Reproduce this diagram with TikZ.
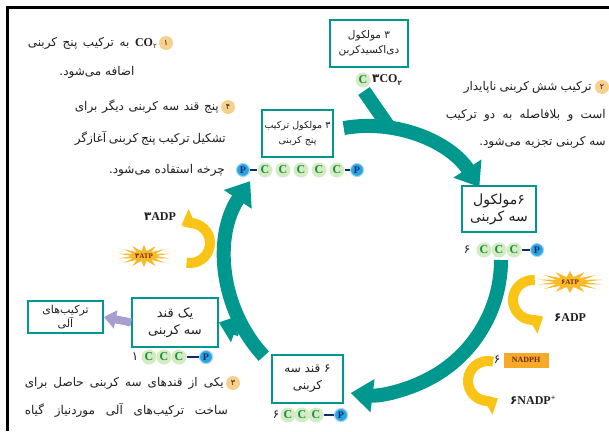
\documentclass[tikz,border=0pt]{standalone}
\usepackage{fontspec}
\setmainfont{Liberation Serif}
\newfontfamily\fa[Script=Arabic]{DejaVu Sans}
\TeXXeTstate=1
\usetikzlibrary{arrows.meta,shapes.geometric}
\definecolor{teal1}{RGB}{0,152,142}
\definecolor{gold}{RGB}{250,196,22}
\definecolor{starc}{RGB}{248,186,40}
\definecolor{nadph}{RGB}{246,170,40}
\definecolor{lav}{RGB}{168,158,208}
\definecolor{numc}{RGB}{248,208,140}
\definecolor{cfill}{RGB}{212,236,196}
\definecolor{ctext}{RGB}{30,140,60}
\definecolor{pfill}{RGB}{40,165,225}
\definecolor{ptext}{RGB}{20,40,110}
\definecolor{dtext}{RGB}{35,31,32}
\definecolor{atpt}{RGB}{110,40,20}
\tikzset{
  pbox/.style={draw=teal1, line width=1.8pt, fill=white, inner sep=1pt, align=center,
    font=\fa\fontsize{10}{14}\selectfont, text=dtext},
  ptxt/.style={font=\fa\fontsize{12}{13}\selectfont, inner sep=0, text=dtext},
  numcirc/.style={circle, fill=numc, inner sep=0, minimum size=14pt, text=dtext,
    font=\fa\fontsize{8}{8}\selectfont},
  catom/.style={circle, fill=cfill, inner sep=0, minimum size=15pt, text=ctext,
    font=\bfseries\fontsize{12}{12}\selectfont},
  patom/.style={circle, fill=pfill, draw=pfill!45, line width=1pt, inner sep=0, minimum size=13pt,
    text=ptext, font=\bfseries\fontsize{10}{10}\selectfont},
  bondline/.style={draw=ptext, line width=1.2pt},
  cyc/.style={draw=teal1, line width=14pt},
  cycarrow/.style={cyc, -{Triangle[width=32pt,length=22pt]}},
  yarrow/.style={draw=gold, line width=10pt, -{Triangle[width=22pt,length=13pt]}},
  lbl/.style={inner sep=0, font=\bfseries\fontsize{12}{12}\selectfont, text=dtext},
  starshape/.style={star, star points=14, star point ratio=2.2, fill=starc, inner sep=0, minimum size=22pt},
}
\begin{document}
\begin{tikzpicture}[x=1pt,y=-1pt]
\useasboundingbox (0,0) rectangle (609,431);
\clip (0,0) rectangle (609,431);
\fill[white] (0,0) rectangle (609,431);
\draw[line width=3pt] (7,431) -- (7,7) -- (609,7);

% ---------- cycle arrows ----------
\coordinate (cc) at (367,260);
\draw[cycarrow] (cc) ++(-100:134) arc[start angle=-100, end angle=-33, radius=134];
\draw[cycarrow] (cc) ++(0:134) arc[start angle=0, end angle=97, radius=134];
\draw[cycarrow] (cc) ++(137:141) arc[start angle=137, end angle=214, radius=141];
\coordinate (co2a) at (364,91);
\coordinate (co2b) at (389,127);
\draw[cyc] (co2a) -- (co2b);
\coordinate (brs) at (240,330);

% ---------- boxes ----------
\node[pbox, minimum width=78pt, minimum height=47pt, font=\fa\fontsize{10.5}{15}\selectfont] (bco2) at (369,43.5) {\beginR ۳ مولکول\endR\\\beginR دی‌اکسیدکربن\endR};
\node[pbox, minimum width=71pt, minimum height=47pt, font=\fa\fontsize{9.5}{15}\selectfont] (bru) at (297.5,133.5) {\beginR ۳ مولکول ترکیب\endR\\\beginR پنج کربنی\endR};
\node[pbox, minimum width=74pt, minimum height=46pt, font=\fa\fontsize{14}{17}\selectfont] (b6m) at (499,209) {\beginR ۶مولکول\endR\\\beginR سه کربنی\endR};
\node[pbox, minimum width=71pt, minimum height=48pt, font=\fa\fontsize{12}{17}\selectfont] (b6s) at (307.5,379) {\beginR ۶ قند سه\endR\\\beginR کربنی\endR};
\node[pbox, minimum width=86pt, minimum height=49pt, font=\fa\fontsize{13}{17}\selectfont] (b1s) at (175,322.5) {\beginR یک قند\endR\\\beginR سه کربنی\endR};
\node[pbox, minimum width=75pt, minimum height=32pt, font=\fa\fontsize{11}{13}\selectfont] (borg) at (65.5,317) {\beginR ترکیب‌های\endR\\\beginR آلی\endR};

\draw[cyc, line width=13pt, -{Triangle[width=28pt,length=18pt]}] (brs) -- (b1s.east);
\draw[draw=lav, line width=8pt, -{Triangle[width=18pt,length=12pt]}] (b1s.west) -- (borg.east);

% ---------- chains ----------
\node[catom] (cco2) at (363,80) {C};
\node[lbl, anchor=west] (tco2) at (372,80) {{\fa ۳}CO\raisebox{-3pt}{\fa\fontsize{7}{7}\selectfont ۲}};

\node[patom] (r0) at (243,170) {P};
\foreach \i/\x in {1/265,2/283,3/301,4/319,5/337} \node[catom] (r\i) at (\x,170) {C};
\node[patom] (r6) at (357,170) {P};
\draw[bondline] (r0) -- (r1);
\draw[bondline] (r5) -- (r6);

\node[ptxt] (m6) at (467,250) {۶};
\foreach \i/\x in {1/484,2/499,3/514} \node[catom] (m\i) at (\x,250) {C};
\node[patom] (m4) at (537,250) {P};
\draw[bondline] (m3) -- (m4);

\node[ptxt] (s6) at (276,415) {۶};
\foreach \i/\x in {1/288,2/302,3/316} \node[catom] (s\i) at (\x,415) {C};
\node[patom] (s4) at (341,415) {P};
\draw[bondline] (s3) -- (s4);

\node[ptxt] (u1) at (135,357) {۱};
\foreach \i/\x in {1/149,2/164,3/179} \node[catom] (u\i) at (\x,357) {C};
\node[patom] (u4) at (206,357) {P};
\draw[bondline] (u3) -- (u4);

% ---------- yellow cycles ----------
\coordinate (y1c) at (190,243);
\draw[yarrow] (y1c) ++(100:20) arc[start angle=100, end angle=-115, radius=20];
\node[starshape, xscale=2.4] (st1) at (144,256) {};
\node[lbl, font=\bfseries\fontsize{7}{7}\selectfont, text=atpt] (atp3) at (144,256) {{\fa ۳}ATP};
\node[lbl] (adp3) at (160,217) {{\fa ۳}ADP};

\coordinate (y2c) at (533,300);
\draw[yarrow] (y2c) ++(-85:20) arc[start angle=-85, end angle=-300, radius=20];
\node[starshape, xscale=3] (st2) at (570,282) {};
\node[lbl, font=\bfseries\fontsize{7}{7}\selectfont, text=atpt] (atp6) at (570,282) {{\fa ۶}ATP};
\node[lbl] (adp6) at (570,318) {{\fa ۶}ADP};

\coordinate (y3c) at (488,381);
\draw[yarrow] (y3c) ++(-75:20) arc[start angle=-75, end angle=-300, radius=20];
\node[ptxt] (n6) at (497,360) {۶};
\node[fill=nadph, minimum width=45pt, minimum height=15pt, inner sep=0, font=\bfseries\fontsize{8}{8}\selectfont, text=atpt] (nadph) at (526,360) {NADPH};
\node[lbl] (nadp) at (533,400) {{\fa ۶}NADP\textsuperscript{+}};

% ---------- paragraphs ----------
\node[numcirc] (n1) at (166,43) {۱};
\node[ptxt, anchor=east] (p1a) at (157,43) {\makebox[129pt][s]{\beginR\beginL{\rmfamily\bfseries CO}\raisebox{-2pt}{\fontsize{7}{7}\selectfont ۲}\endL{} به ترکیب پنج کربنی\endR}};
\node[ptxt] (p1b) at (97,72) {\beginR اضافه می‌شود.\endR};

\node[numcirc] (n4) at (228,107) {۴};
\node[ptxt, anchor=east] (p4a) at (219,107) {\makebox[144pt][s]{\beginR پنج قند سه کربنی دیگر برای\endR}};
\node[ptxt, anchor=east] (p4b) at (226,138) {\makebox[151pt][s]{\beginR تشکیل ترکیب پنج کربنی آغازگر\endR}};
\node[ptxt, anchor=east] (p4c) at (225,170) {\beginR چرخه استفاده می‌شود.\endR};

\node[numcirc] (n2) at (602,87) {۲};
\node[ptxt, anchor=east] (p2a) at (592,87) {\makebox[128pt][s]{\beginR ترکیب شش کربنی ناپایدار\endR}};
\node[ptxt, anchor=east] (p2b) at (606,115) {\makebox[160pt][s]{\beginR است و بلافاصله به دو ترکیب\endR}};
\node[ptxt, anchor=east] (p2c) at (606,142) {\beginR سه کربنی تجزیه می‌شود.\endR};

\node[numcirc] (n3) at (233,383) {۳};
\node[ptxt, anchor=east] (p3a) at (224,383) {\makebox[199pt][s]{\beginR یکی از قندهای سه کربنی حاصل برای\endR}};
\node[ptxt, anchor=east] (p3b) at (228,410) {\makebox[203pt][s]{\beginR ساخت ترکیب‌های آلی موردنیاز گیاه\endR}};
\end{tikzpicture}
\end{document}
